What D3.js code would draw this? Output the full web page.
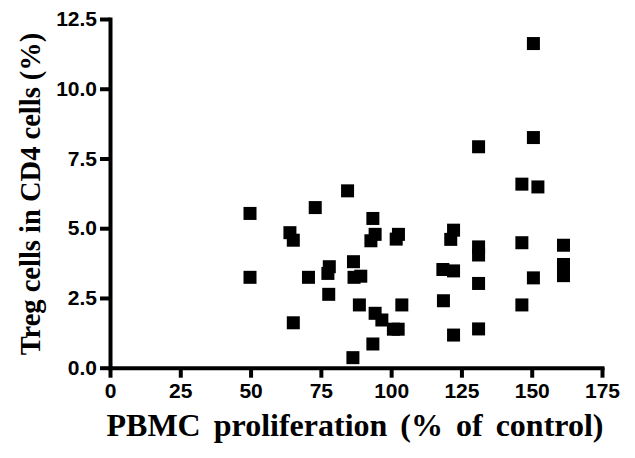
<!DOCTYPE html>
<html>
<head>
<meta charset="utf-8">
<script src="https://cdn.jsdelivr.net/npm/d3@7"></script>
<style>
  body { margin: 0; background: #fff; }
  .tick text { font-family: "Liberation Sans", Arial, sans-serif; font-weight: bold; font-size: 21px; fill: #000; }
  .axis-title { font-family: "Liberation Serif", "Times New Roman", serif; font-weight: bold; fill: #000; }
</style>
</head>
<body>
<div id="chart"></div>
<script>
// PBMC proliferation (% of control)
let xVals = [49.8, 49.8, 64, 65.2, 65.2, 70.6, 73, 78, 77.5, 77.8,
             84.5, 86.6, 86.8, 89.2, 88.7, 86.4, 93.5, 94.3, 92.8, 94.3,
             96.7, 93.5, 102.6, 101.8, 103.8, 100.8, 102.5, 118.4, 122.2, 118.6,
             122.2, 122.2, 121.2, 131.1, 131.1, 131.1, 131.1, 131.1, 146.5, 146.5,
             146.5, 150.6, 150.6, 152.2, 150.6, 161.3, 161.3, 161.3];
// Treg cells in CD4 cells (%)
let yVals = [5.53, 3.24, 4.84, 4.57, 1.61, 3.24, 5.74, 3.62, 3.38, 2.63,
             6.34, 3.8, 3.24, 3.28, 2.25, 0.36, 5.35, 4.78, 4.55, 1.95,
             1.71, 0.85, 4.78, 4.61, 2.25, 1.38, 1.38, 3.52, 3.47, 2.4,
             1.17, 4.93, 4.6, 7.92, 4.33, 4.04, 3.02, 1.39, 6.58, 4.48,
             2.25, 11.62, 8.25, 6.48, 3.22, 4.39, 3.7, 3.3];
let xTicks = [0, 25, 50, 75, 100, 125, 150, 175];
let yTicks = [0, 2.5, 5, 7.5, 10, 12.5];

let width = 635, height = 458;
let svg = d3.select("#chart").append("svg")
    .attr("width", width).attr("height", height);

let xScale = d3.scaleLinear().domain([0, 175]).range([110, 602]);
let yScale = d3.scaleLinear().domain([0, 12.5]).range([367.7, 19]);

let xAxis = d3.axisBottom(xScale).tickValues(xTicks).tickSize(10).tickSizeOuter(0).tickPadding(5);
let yAxis = d3.axisLeft(yScale).tickValues(yTicks).tickFormat(d3.format(".1f")).tickSize(10).tickSizeOuter(0).tickPadding(3);

let gx = svg.append("g").attr("transform", "translate(0,367.7)").call(xAxis);
let gy = svg.append("g").attr("transform", "translate(110,0)").call(yAxis);

[gx, gy].forEach(g => {
  g.select(".domain").attr("stroke", "#000").attr("stroke-width", 4).attr("stroke-linecap", "square");
  g.selectAll(".tick line").attr("stroke", "#000").attr("stroke-width", 4);
});

// points
let pts = xVals.map((x, i) => ({x: x, y: yVals[i]}));
let s = 13;
svg.selectAll(".pt").data(pts).enter().append("rect")
    .attr("class", "pt")
    .attr("x", d => xScale(d.x) - s / 2)
    .attr("y", d => yScale(d.y) - s / 2)
    .attr("width", s).attr("height", s)
    .attr("fill", "#000");

svg.append("text").attr("class", "axis-title")
    .attr("x", 355).attr("y", 436)
    .attr("text-anchor", "middle")
    .style("font-size", "32px")
    .style("word-spacing", "5px")
    .text("PBMC proliferation (% of control)");

svg.append("text").attr("class", "axis-title")
    .attr("transform", "translate(40,194) rotate(-90)")
    .attr("text-anchor", "middle")
    .style("font-size", "28.5px")
    .text("Treg cells in CD4 cells (%)");
</script>
</body>
</html>
